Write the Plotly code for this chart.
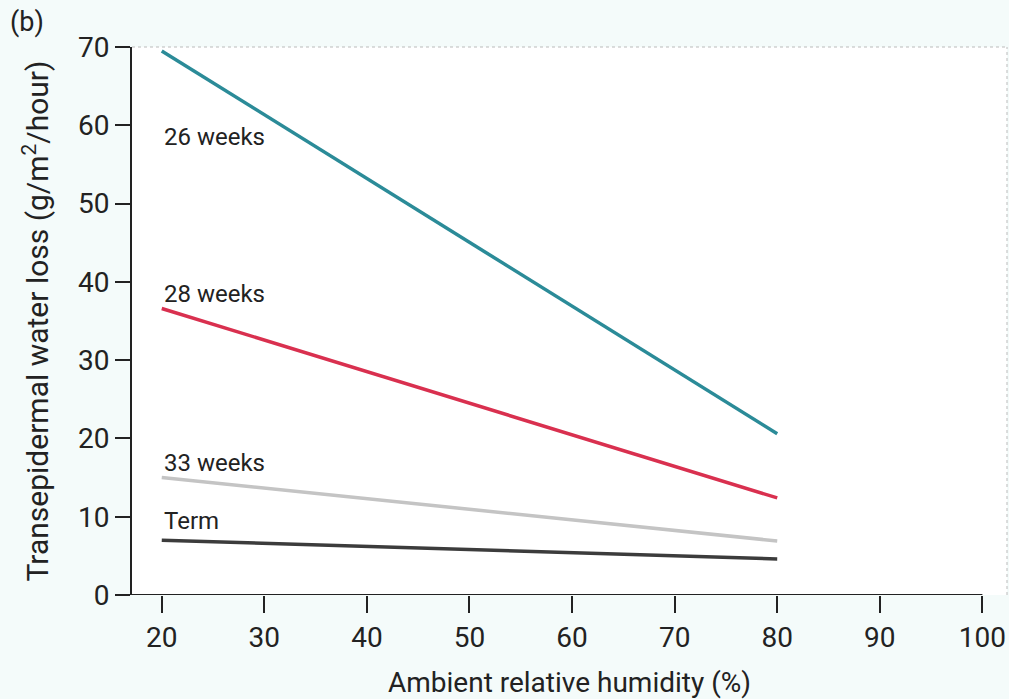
import plotly.graph_objects as go

humidity = [20, 80]
series_names = ["26 weeks", "28 weeks", "33 weeks", "Term"]
loss_26 = [69.5, 20.6]
loss_28 = [36.6, 12.4]
loss_33 = [15.0, 6.9]
loss_term = [7.0, 4.6]
label_y = [58.5, 38.4, 16.9, 9.4]
x_ticks = [20, 30, 40, 50, 60, 70, 80, 90, 100]
y_ticks = [0, 10, 20, 30, 40, 50, 60, 70]

colors = ["#2b8b98", "#d9304f", "#c4c4c4", "#3c3c3c"]
series = [loss_26, loss_28, loss_33, loss_term]

FONT = "Roboto, Open Sans, sans-serif"

fig = go.Figure()
for name, vals, col in zip(series_names, series, colors):
    fig.add_trace(go.Scatter(x=humidity, y=vals, mode="lines", name=name,
                             line=dict(color=col, width=3.5), showlegend=False))

for name, ly in zip(series_names, label_y):
    fig.add_annotation(x=humidity[0], y=ly, text=name, showarrow=False,
                       xanchor="left", yanchor="middle",
                       font=dict(family=FONT, size=24, color="#222"))

X0, X1 = 17.1, 102.4
fig.update_layout(
    width=1009, height=699,
    margin=dict(l=132, r=2, t=47, b=104),
    paper_bgcolor="#f4fbfa",
    plot_bgcolor="white",
    font=dict(family=FONT, color="#222", size=24),
    xaxis=dict(range=[X0, X1], tickvals=x_ticks, ticks="outside", ticklen=17,
               tickwidth=2, tickcolor="#222", showgrid=False, zeroline=False,
               showline=False, tickfont=dict(size=28),
               title=dict(text="Ambient relative humidity (%)", font=dict(size=28), standoff=20)),
    yaxis=dict(range=[0, 70], tickvals=y_ticks, ticks="outside", ticklen=15,
               tickwidth=2, tickcolor="#222", showgrid=False, zeroline=False,
               showline=True, linecolor="#222", linewidth=2, tickfont=dict(size=28),
               title=dict(text="Transepidermal water loss (g/m<sup>2</sup>/hour)",
                          font=dict(size=30), standoff=20)),
)

# x axis line ending at 100
fig.add_shape(type="line", xref="x", yref="y", x0=X0, x1=100, y0=0, y1=0,
              line=dict(color="#222", width=2))
# faint dotted frame top and right
fig.add_shape(type="line", xref="paper", yref="paper", x0=0, x1=1, y0=1, y1=1,
              line=dict(color="#bbbbbb", width=1, dash="dot"))
fig.add_shape(type="line", xref="paper", yref="paper", x0=1, x1=1, y0=0, y1=1,
              line=dict(color="#bbbbbb", width=1, dash="dot"))

fig.add_annotation(xref="paper", yref="paper", x=-0.142, y=1.045, text="(b)",
                   showarrow=False, xanchor="left", yanchor="middle",
                   font=dict(family=FONT, size=27, color="#222"))

fig.write_html("out.html")
